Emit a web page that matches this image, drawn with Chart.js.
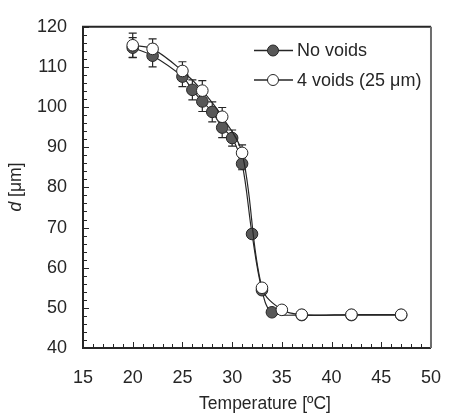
<!DOCTYPE html>
<html>
<head>
<meta charset="utf-8">
<script src="https://cdn.jsdelivr.net/npm/chart.js@4/dist/chart.umd.min.js"></script>
<style>
  html,body{margin:0;padding:0;background:#fff;}
  #wrap{width:460px;height:416px;position:relative;}
</style>
</head>
<body>
<div id="wrap"><canvas id="c" width="460" height="416"></canvas></div>
<script>
// ---- data ----
const tempNoVoids = [20, 22, 25, 26, 27, 28, 29, 30, 31, 32, 33, 34, 37, 42, 47];
const dNoVoids    = [114.8, 112.8, 107.6, 104.3, 101.4, 98.8, 94.9, 92.3, 85.9, 68.4, 54.4, 48.9, 48.2, 48.2, 48.2];
const errNoVoids  = [2.5, 2.8, 2.5, 2.5, 2.5, 2.5, 2.5, 2, 1.5, 1, 1, 0.8, 0.5, 0.5, 0.5];

const temp4Voids  = [20, 22, 25, 27, 29, 31, 33, 35, 37, 42, 47];
const d4Voids     = [115.4, 114.5, 109.0, 104.1, 97.6, 88.6, 55.0, 49.5, 48.3, 48.3, 48.3];
const err4Voids   = [3, 2.5, 2.3, 2.5, 2.3, 2, 1, 0.5, 0.5, 0.5, 0.5];

const xTicks = [15, 20, 25, 30, 35, 40, 45, 50];
const yTicks = [40, 50, 60, 70, 80, 90, 100, 110, 120];

const FONT = "'Liberation Sans', Arial, sans-serif";
const INK = '#262626';

const toPts = (xs, ys) => xs.map((x,i)=>({x, y:ys[i]}));

// error bars, drawn under the markers
const errorBars = {
  id:'errorBars',
  beforeDatasetsDraw(chart){
    const {ctx, scales:{y}} = chart;
    chart.data.datasets.forEach((ds, di)=>{
      const meta = chart.getDatasetMeta(di);
      ctx.save();
      ctx.strokeStyle = INK; ctx.lineWidth = 1.2;
      meta.data.forEach((pt, i)=>{
        const e = ds.errors[i];
        const v = ds.data[i].y;
        const yt = y.getPixelForValue(v+e), yb = y.getPixelForValue(v-e);
        ctx.beginPath();
        ctx.moveTo(pt.x, yt); ctx.lineTo(pt.x, yb);
        ctx.moveTo(pt.x-4, yt); ctx.lineTo(pt.x+4, yt);
        ctx.moveTo(pt.x-4, yb); ctx.lineTo(pt.x+4, yb);
        ctx.stroke();
      });
      ctx.restore();
    });
  }
};

// frame, inside ticks, axis titles and legend
const frame = {
  id:'frame',
  beforeDatasetsDraw(chart){
    const {ctx, chartArea:a, scales:{x, y}} = chart;
    ctx.save();
    ctx.strokeStyle = INK; ctx.lineWidth = 1;
    ctx.beginPath();
    for(let t=15; t<=50; t++){
      const px = Math.round(x.getPixelForValue(t))+0.5;
      const len = t%5===0 ? 6 : 4;
      ctx.moveTo(px, a.bottom); ctx.lineTo(px, a.bottom-len);
    }
    for(let t=40; t<=120; t+=2){
      const py = Math.round(y.getPixelForValue(t))+0.5;
      const len = t%10===0 ? 6 : 4;
      ctx.moveTo(a.left, py); ctx.lineTo(a.left+len, py);
    }
    ctx.stroke();
    ctx.lineWidth = 2;
    ctx.beginPath();
    ctx.moveTo(a.right, a.top); ctx.lineTo(a.left, a.top); ctx.lineTo(a.left, a.bottom); ctx.lineTo(a.right, a.bottom);
    ctx.stroke();
    ctx.strokeStyle = '#6e6e6e';
    ctx.beginPath(); ctx.moveTo(a.right, a.top); ctx.lineTo(a.right, a.bottom); ctx.stroke();
    ctx.restore();
  },
  afterDraw(chart){
    const {ctx} = chart;
    ctx.save();
    ctx.fillStyle = INK;
    // x title
    ctx.font = `17.5px ${FONT}`;
    ctx.textAlign = 'center'; ctx.textBaseline = 'middle';
    ctx.fillText('Temperature [ºC]', 265, 404);
    // y title: italic d + [μm]
    ctx.translate(16, 187);
    ctx.rotate(-Math.PI/2);
    ctx.textBaseline = 'middle'; ctx.textAlign = 'left';
    ctx.font = `italic 17.5px ${FONT}`;
    const wd = ctx.measureText('d').width;
    ctx.font = `17.5px ${FONT}`;
    const wr = ctx.measureText(' [μm]').width;
    const x0 = -(wd+wr)/2;
    ctx.font = `italic 17.5px ${FONT}`;
    ctx.fillText('d', x0, 0);
    ctx.font = `17.5px ${FONT}`;
    ctx.fillText(' [μm]', x0+wd, 0);
    ctx.restore();

    // legend
    ctx.save();
    const rows = [{ds:chart.data.datasets[1], y:50.5}, {ds:chart.data.datasets[0], y:80}];
    rows.forEach(r=>{
      ctx.strokeStyle = INK; ctx.lineWidth = 1.3;
      ctx.beginPath(); ctx.moveTo(254, r.y); ctx.lineTo(293, r.y); ctx.stroke();
      ctx.beginPath(); ctx.arc(273, r.y, 5.5, 0, Math.PI*2);
      ctx.fillStyle = r.ds.pointBackgroundColor; ctx.fill();
      ctx.lineWidth = 1; ctx.strokeStyle = r.ds.pointBorderColor; ctx.stroke();
      ctx.fillStyle = INK;
      ctx.font = `18px ${FONT}`;
      ctx.textAlign = 'left'; ctx.textBaseline = 'middle';
      ctx.fillText(r.ds.label, 297, r.y+1);
    });
    ctx.restore();
  }
};

new Chart(document.getElementById('c'), {
  type:'line',
  data:{
    datasets:[
      {label:'4 voids (25 μm)', data:toPts(temp4Voids, d4Voids), errors:err4Voids, order:0,
       borderColor:INK, borderWidth:1.2, tension:0.35,
       pointRadius:5.8, pointBackgroundColor:'#ffffff', pointBorderColor:INK, pointBorderWidth:1},
      {label:'No voids', data:toPts(tempNoVoids, dNoVoids), errors:errNoVoids, order:1,
       borderColor:INK, borderWidth:1.2, tension:0.35,
       pointRadius:5.8, pointBackgroundColor:'#585858', pointBorderColor:INK, pointBorderWidth:1}
    ]
  },
  options:{
    responsive:false, animation:false,
    layout:{padding:{top:22, right:14, left:0, bottom:0}},
    plugins:{legend:{display:false}, tooltip:{enabled:false}},
    scales:{
      x:{type:'linear', min:15, max:50,
         afterBuildTicks:s=>{ s.ticks = xTicks.map(v=>({value:v})); },
         afterFit:s=>{ s.height = 68; },
         grid:{display:false, drawTicks:false}, border:{display:false},
         ticks:{color:INK, font:{family:FONT, size:18}, padding:19, maxRotation:0}},
      y:{type:'linear', min:40, max:120,
         afterBuildTicks:s=>{ s.ticks = yTicks.map(v=>({value:v})); },
         afterFit:s=>{ s.width = 83; },
         grid:{display:false, drawTicks:false}, border:{display:false},
         ticks:{color:INK, font:{family:FONT, size:18}, padding:16}}
    }
  },
  plugins:[errorBars, frame]
});
</script>
</body>
</html>
